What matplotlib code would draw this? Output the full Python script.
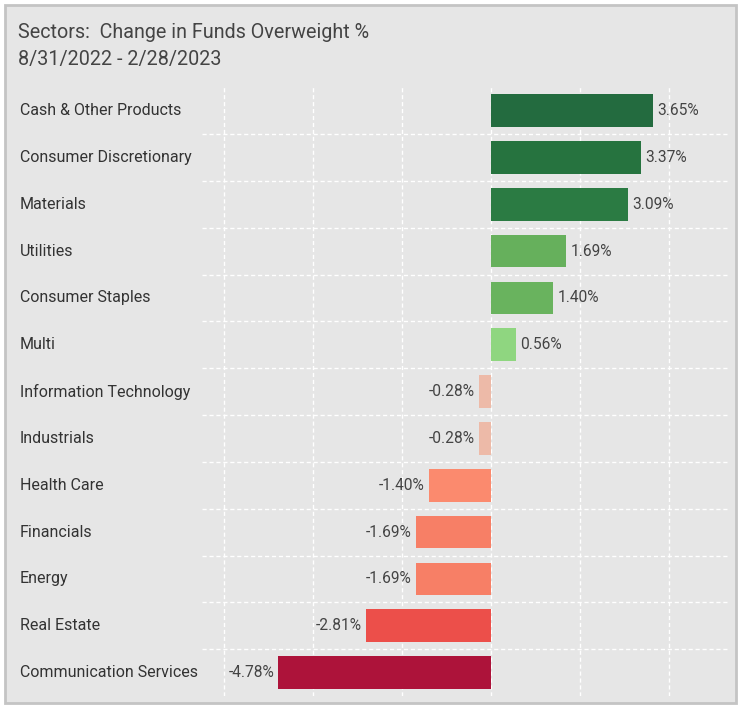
import matplotlib
matplotlib.use("Agg")
import matplotlib.pyplot as plt
from matplotlib.patches import Rectangle
import matplotlib.transforms as mtransforms

plt.rcParams['font.family'] = ['Roboto', 'DejaVu Sans']

sectors = ['Cash & Other Products', 'Consumer Discretionary', 'Materials', 'Utilities',
           'Consumer Staples', 'Multi', 'Information Technology', 'Industrials',
           'Health Care', 'Financials', 'Energy', 'Real Estate', 'Communication Services']
changes = [3.65, 3.37, 3.09, 1.69, 1.40, 0.56, -0.28, -0.28, -1.40, -1.69, -1.69, -2.81, -4.78]
colors = ['#236b3f', '#26733f', '#2b7b43', '#66b05c', '#69b35e', '#8fd680', '#edbaa8',
          '#edbaa8', '#fb8a6e', '#f77f66', '#f77f66', '#ec4f4a', '#ad133a']
xticks = [-6, -4, -2, 0, 2, 4]

W, H = 741, 708
fig = plt.figure(figsize=(W / 100, H / 100), dpi=100)
fig.patch.set_facecolor('white')

# grey panel with border (behind the axes)
fig.patches.append(Rectangle((5 / W, 5 / H), 731 / W, 698 / H, transform=fig.transFigure,
                             facecolor='#e6e6e6', edgecolor='#c4c4c4', linewidth=2, zorder=-5))

ax = fig.add_axes([202 / W, 1 - 696 / H, 527 / W, 608.8 / H])
ax.set_zorder(2)
ax.set_facecolor('none')

y = list(range(len(sectors)))
ax.barh(y, changes, height=0.70, color=colors, zorder=3)
ax.set_ylim(len(sectors) - 0.5, -0.5)
ax.set_xlim(-6.5, 5.35)

for xv in xticks:
    ax.axvline(xv, color='white', linestyle=(0, (3, 2)), linewidth=1, zorder=1)
for i in range(len(sectors) - 1):
    ax.axhline(i + 0.5, color='white', linestyle=(0, (3, 2)), linewidth=1, zorder=1)

for i, v in enumerate(changes):
    if v >= 0:
        ax.text(v + 0.09, i, f'{v:.2f}%', va='center', ha='left', fontsize=11.2, color='#444444', zorder=4)
    else:
        ax.text(v - 0.09, i, f'{v:.2f}%', va='center', ha='right', fontsize=11.2, color='#444444', zorder=4)

trans = mtransforms.blended_transform_factory(fig.transFigure, ax.transData)
for i, s in enumerate(sectors):
    ax.text(20 / W, i, s, transform=trans, va='center', ha='left', fontsize=11.5, color='#333333')

ax.set_xticks([])
ax.set_yticks([])
for sp in ax.spines.values():
    sp.set_visible(False)

fig.text(18 / W, 1 - 33 / H, 'Sectors:  Change in Funds Overweight %', fontsize=14.2,
         color='#444444', va='center', ha='left')
fig.text(18 / W, 1 - 60 / H, '8/31/2022 - 2/28/2023', fontsize=14.2,
         color='#444444', va='center', ha='left')

fig.savefig('out.png', dpi=100, facecolor=fig.get_facecolor())
